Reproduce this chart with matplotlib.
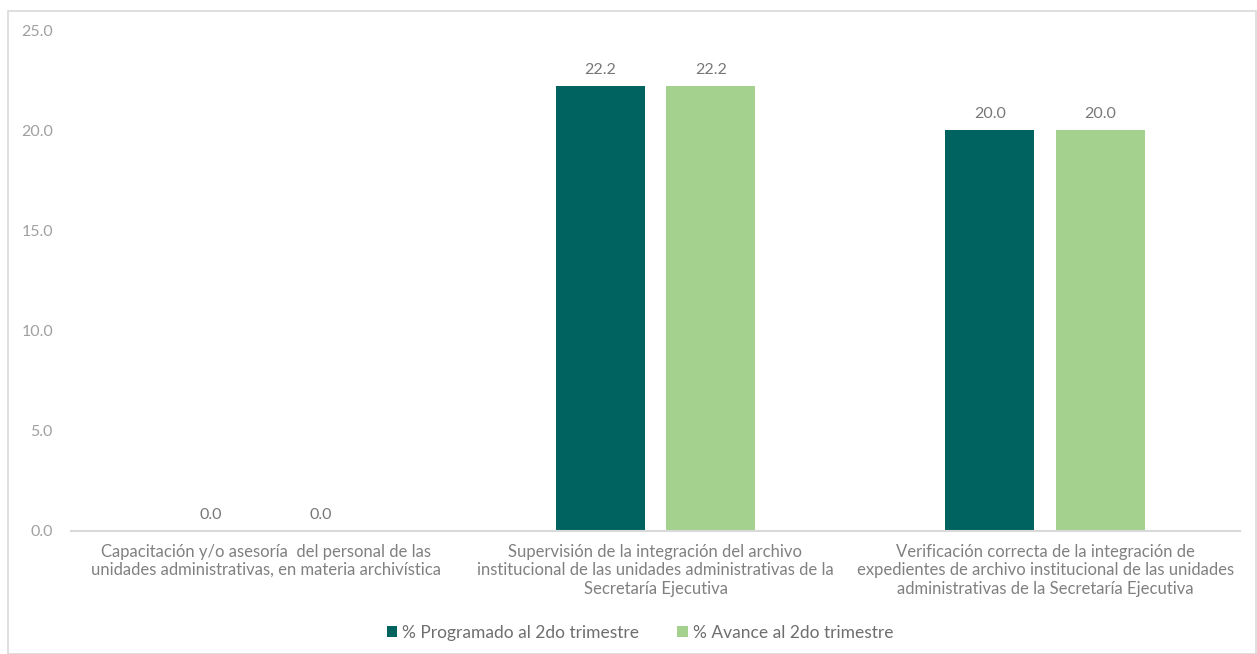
import matplotlib.pyplot as plt
import numpy as np
from matplotlib.patches import Rectangle

plt.rcParams['font.family'] = ['Lato', 'DejaVu Sans']

categories = [
    "Capacitación y/o asesoría  del personal de las\nunidades administrativas, en materia archivística",
    "Supervisión de la integración del archivo\ninstitucional de las unidades administrativas de la\nSecretaría Ejecutiva",
    "Verificación correcta de la integración de\nexpedientes de archivo institucional de las unidades\nadministrativas de la Secretaría Ejecutiva",
]
programado = [0.0, 22.2, 20.0]
avance = [0.0, 22.2, 20.0]
series_names = ["% Programado al 2do trimestre", "% Avance al 2do trimestre"]
y_ticks = [0, 5, 10, 15, 20, 25]

dark = '#00635f'
light = '#a5d18e'
text_color = '#808080'

fig = plt.figure(figsize=(12.57, 6.54), dpi=100)
# outer frame of the chart area
fig.patches.append(Rectangle((8 / 1257, 0), 1 - 9 / 1257, 1 - 11 / 654,
                             transform=fig.transFigure, fill=False,
                             edgecolor='#d9d9d9', linewidth=1.2))
ax = fig.add_axes([71 / 1257, 1 - 531 / 654, 1169 / 1257, 501 / 654])

x = np.arange(len(categories))
w = 0.228
off = 0.142
b1 = ax.bar(x - off, programado, w, color=dark, label=series_names[0])
b2 = ax.bar(x + off, avance, w, color=light, label=series_names[1])

for bars in (b1, b2):
    for r in bars:
        ax.text(r.get_x() + r.get_width() / 2, r.get_height() + 0.45,
                f"{r.get_height():.1f}", ha='center', va='bottom',
                fontsize=11.5, color='#777777')

ax.set_xlim(-0.5, len(categories) - 0.5)
ax.set_ylim(0, 25)
ax.set_yticks(y_ticks)
ax.set_yticklabels([f"{v:.1f}" for v in y_ticks])
ax.set_xticks(x)
ax.set_xticklabels(categories, fontsize=12, color=text_color, linespacing=1.2)
ax.tick_params(axis='y', length=0, labelsize=11.5, labelcolor='#a0a0a0', pad=13)
ax.tick_params(axis='x', length=0, pad=9)
for s in ['top', 'right', 'left']:
    ax.spines[s].set_visible(False)
ax.spines['bottom'].set_color('#d9d9d9')
ax.spines['bottom'].set_linewidth(1.5)

leg = fig.legend(loc='center', bbox_to_anchor=(640 / 1257, 1 - 633 / 654), ncol=2,
                 frameon=False, fontsize=12.5, handlelength=0.6, handleheight=0.6,
                 handletextpad=0.3, columnspacing=2.2)
for t in leg.get_texts():
    t.set_color('#6e6e6e')

fig.savefig('out.png', dpi=100)
